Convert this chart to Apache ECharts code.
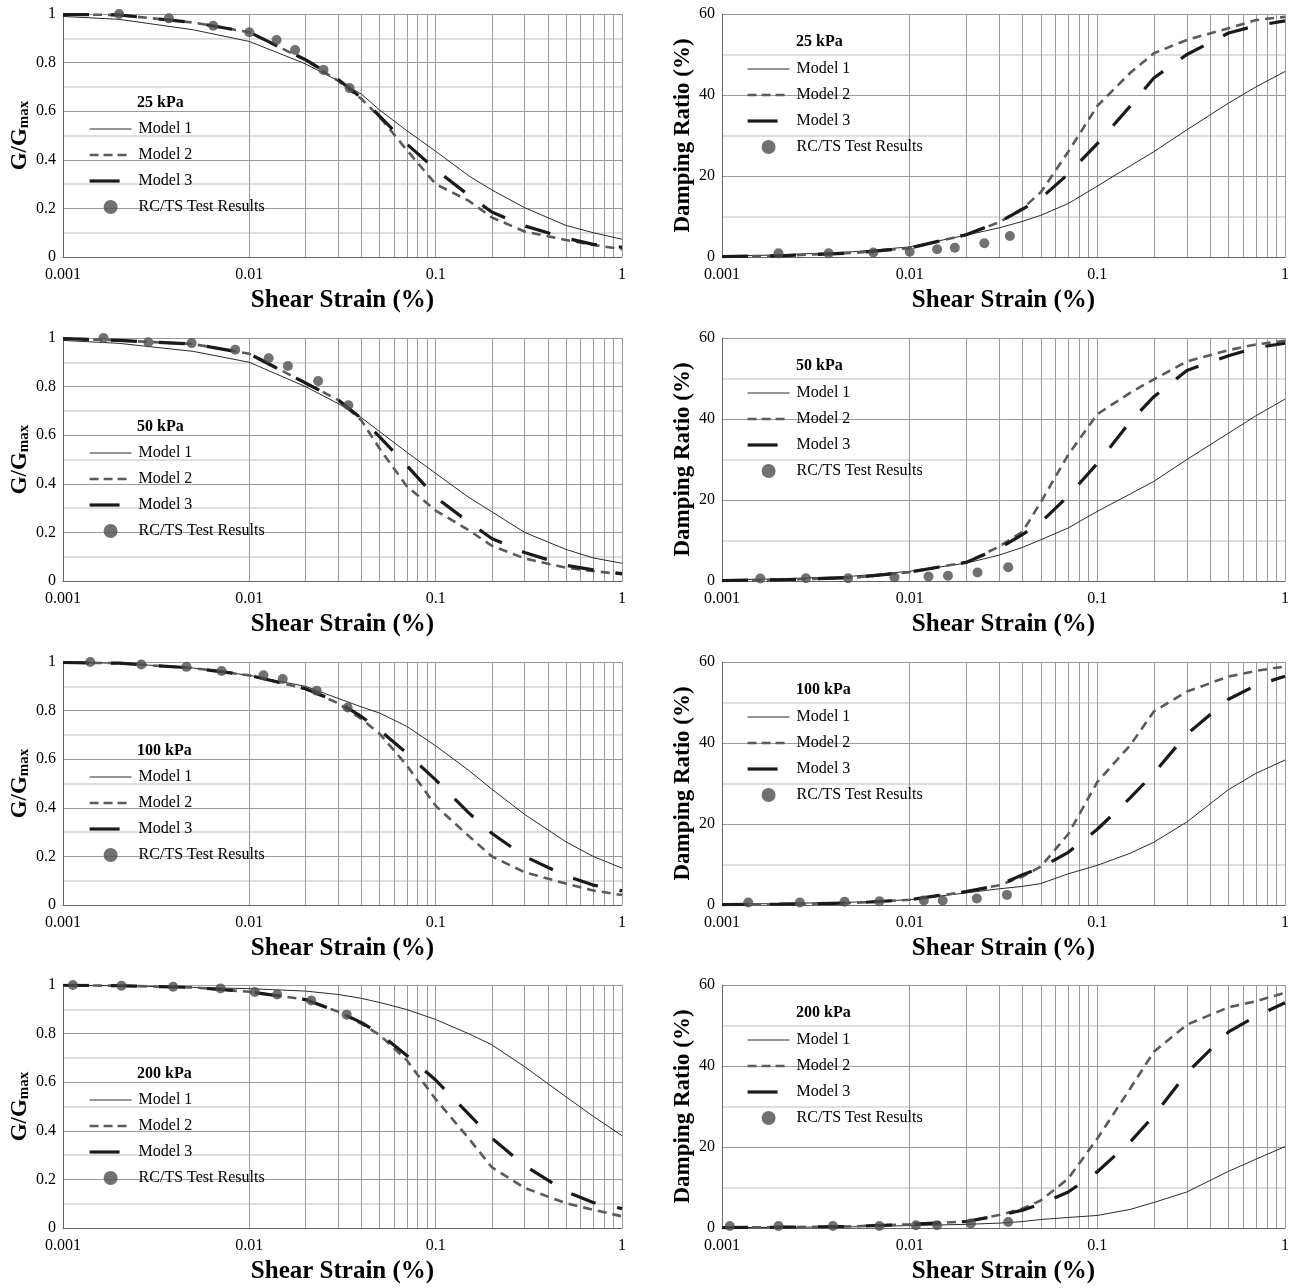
<!DOCTYPE html>
<html>
<head>
<meta charset="utf-8">
<script src="https://cdn.jsdelivr.net/npm/echarts@6/dist/echarts.min.js"></script>
<style>
html,body{margin:0;padding:0;background:#fff;}
#chart{width:1300px;height:1288px;}
</style>
</head>
<body>
<div id="chart"></div>
<script>
// ---------- DATA ----------
const strain = [0.001,0.002,0.005,0.01,0.02,0.03,0.04,0.05,0.07,0.1,0.15,0.2,0.3,0.5,0.7,1];
const xTickLabels = ['0.001','0.01','0.1','1'];
const pressures = ['25 kPa','50 kPa','100 kPa','200 kPa'];
const legendNames = ['Model 1','Model 2','Model 3','RC/TS Test Results'];

// 25 kPa
const g25_m1 = [0.99,0.978,0.935,0.887,0.795,0.725,0.67,0.605,0.52,0.435,0.335,0.276,0.203,0.13,0.1,0.073];
const g25_m2 = [0.998,0.996,0.965,0.925,0.81,0.725,0.65,0.577,0.44,0.3,0.232,0.163,0.105,0.07,0.05,0.032];
const g25_m3 = [0.998,0.996,0.965,0.925,0.812,0.73,0.655,0.58,0.465,0.36,0.255,0.185,0.128,0.078,0.052,0.04];
const g25_testX = [0.002,0.0037,0.0064,0.01,0.014,0.0176,0.025,0.0345];
const g25_testY = [1.0,0.982,0.952,0.925,0.893,0.852,0.77,0.695];
const d25_m1 = [0.2,0.5,1.3,2.5,5.4,7.2,8.8,10.3,13.2,17.5,22.5,26,31.4,38,42,45.8];
const d25_m2 = [0.1,0.3,1.0,2.2,5.5,8.6,12,16,26,37.3,45.5,50.3,53.6,56.5,58.5,59.3];
const d25_m3 = [0.1,0.3,1.0,2.2,5.5,8.6,11.8,14.5,20.5,28,37.3,44.2,50,55.3,57.1,58.3];
const d25_testX = [0.002,0.0037,0.0064,0.01,0.014,0.0174,0.025,0.0342];
const d25_testY = [0.9,0.9,1.1,1.3,1.9,2.3,3.4,5.2];

// 50 kPa
const g50_m1 = [0.99,0.978,0.945,0.9,0.8,0.73,0.672,0.615,0.53,0.443,0.345,0.285,0.2,0.13,0.095,0.073];
const g50_m2 = [0.998,0.99,0.975,0.935,0.815,0.745,0.66,0.545,0.39,0.29,0.21,0.145,0.093,0.055,0.041,0.028];
const g50_m3 = [0.998,0.99,0.975,0.935,0.815,0.745,0.668,0.593,0.475,0.345,0.243,0.175,0.117,0.065,0.046,0.03];
const g50_testX = [0.00165,0.00287,0.0049,0.0084,0.0127,0.0161,0.0234,0.034];
const g50_testY = [1.0,0.982,0.979,0.952,0.917,0.885,0.823,0.723];
const d50_m1 = [0.3,0.5,1.2,2.4,4.4,6.4,8.3,10.2,13.1,17.2,21.5,24.6,30,36.5,40.8,44.9];
const d50_m2 = [0.1,0.3,0.8,2.2,4.6,8.5,12.2,19.5,31.2,41.2,46.5,49.8,54.2,57,58.4,59.3];
const d50_m3 = [0.1,0.3,0.8,2.2,4.6,8.1,11.5,14.5,21,29,39.4,45.5,52,55.6,57.6,58.7];
const d50_testX = [0.0016,0.0028,0.0047,0.0083,0.0126,0.016,0.023,0.0335];
const d50_testY = [0.6,0.7,0.7,0.9,1.1,1.3,2.1,3.4];

// 100 kPa
const g100_m1 = [0.998,0.995,0.975,0.945,0.9,0.85,0.815,0.79,0.735,0.655,0.555,0.477,0.373,0.26,0.2,0.152];
const g100_m2 = [0.998,0.995,0.975,0.945,0.89,0.83,0.765,0.705,0.575,0.408,0.285,0.2,0.135,0.088,0.06,0.041];
const g100_m3 = [0.998,0.995,0.975,0.945,0.89,0.835,0.775,0.72,0.625,0.515,0.38,0.295,0.2,0.12,0.082,0.058];
const g100_testX = [0.0014,0.00263,0.0046,0.0071,0.0119,0.0151,0.023,0.0337];
const g100_testY = [1.0,0.99,0.98,0.963,0.945,0.93,0.882,0.813];
const d100_m1 = [0.2,0.35,0.7,1.3,3,4,4.6,5.3,7.7,9.8,12.8,15.5,20.5,28.5,32.5,35.8];
const d100_m2 = [0.1,0.2,0.5,1.3,3.3,4.9,7,9.5,17.5,30.4,39.5,47.8,52.7,56.4,57.8,58.9];
const d100_m3 = [0.1,0.2,0.5,1.3,3.3,4.9,7.5,9.2,13,18.7,26.5,32.5,42.2,50.8,54.2,56.5];
const d100_testX = [0.00138,0.0026,0.0045,0.0069,0.0119,0.015,0.0228,0.033];
const d100_testY = [0.6,0.6,0.8,0.9,1.1,1.1,1.6,2.5];

// 200 kPa
const g200_m1 = [0.999,0.997,0.99,0.985,0.975,0.961,0.945,0.928,0.899,0.858,0.8,0.754,0.664,0.54,0.46,0.38];
const g200_m2 = [0.999,0.997,0.99,0.972,0.94,0.89,0.84,0.795,0.69,0.53,0.37,0.25,0.165,0.102,0.075,0.048];
const g200_m3 = [0.999,0.997,0.99,0.972,0.94,0.89,0.845,0.8,0.71,0.609,0.47,0.37,0.257,0.15,0.105,0.08];
const g200_testX = [0.00113,0.00206,0.0039,0.007,0.0107,0.0141,0.0215,0.0333];
const g200_testY = [1.0,0.997,0.993,0.986,0.971,0.961,0.936,0.878];
const d200_m1 = [0.1,0.15,0.3,0.6,0.9,1.2,1.6,2.1,2.6,3.1,4.6,6.3,8.9,14,17,20.1];
const d200_m2 = [0.1,0.2,0.4,0.9,1.6,3.2,4.8,6.8,12.2,22.1,34.5,43.5,50.2,54.5,56,58.1];
const d200_m3 = [0.1,0.2,0.4,0.9,1.6,3.1,4.4,5.9,8.9,13.9,21.3,27.7,38.3,48.4,52.3,55.6];
const d200_testX = [0.0011,0.002,0.0039,0.0069,0.0108,0.014,0.0212,0.0335];
const d200_testY = [0.5,0.5,0.5,0.5,0.7,0.7,1.1,1.5];

const minorStrains = [0.002,0.003,0.004,0.005,0.006,0.007,0.008,0.009,
                      0.02,0.03,0.04,0.05,0.06,0.07,0.08,0.09,
                      0.2,0.3,0.4,0.5,0.6,0.7,0.8,0.9];

// ---------- BUILD ----------
const FONT = 'Liberation Serif';
const panels = [
  {kind:'g', p:0, m:[g25_m1,g25_m2,g25_m3], tx:g25_testX, ty:g25_testY},
  {kind:'d', p:0, m:[d25_m1,d25_m2,d25_m3], tx:d25_testX, ty:d25_testY},
  {kind:'g', p:1, m:[g50_m1,g50_m2,g50_m3], tx:g50_testX, ty:g50_testY},
  {kind:'d', p:1, m:[d50_m1,d50_m2,d50_m3], tx:d50_testX, ty:d50_testY},
  {kind:'g', p:2, m:[g100_m1,g100_m2,g100_m3], tx:g100_testX, ty:g100_testY},
  {kind:'d', p:2, m:[d100_m1,d100_m2,d100_m3], tx:d100_testX, ty:d100_testY},
  {kind:'g', p:3, m:[g200_m1,g200_m2,g200_m3], tx:g200_testX, ty:g200_testY},
  {kind:'d', p:3, m:[d200_m1,d200_m2,d200_m3], tx:d200_testX, ty:d200_testY}
];
const rowTops = [14, 338, 662, 985];

const grid=[], xAxis=[], yAxis=[], series=[], legend=[], title=[];
const lineStyles = [
  {color:'#2a2a2a', width:1, type:'solid'},
  {color:'#5a5a5a', width:2.6, type:[9,6]},
  {color:'#1a1a1a', width:3.2, type:[26,22]}
];

panels.forEach((pn, i) => {
  const isG = pn.kind === 'g';
  const top = rowTops[pn.p];
  const left = isG ? 63 : 722;
  const width = isG ? 559 : 563;
  grid.push({left:left, top:top, width:width, height:243, containLabel:false});
  xAxis.push({
    type:'log', logBase:10, min:0.001, max:1, gridIndex:i,
    name:'Shear Strain (%)', nameLocation:'middle', nameGap:31,
    nameTextStyle:{fontFamily:FONT, fontWeight:'bold', fontSize:25, color:'#000'},
    axisLine:{show:true, lineStyle:{color:'#666', width:1}},
    axisTick:{show:false},
    axisLabel:{fontFamily:FONT, fontSize:16, color:'#000', margin:10,
      formatter: v => { const k = Math.round(Math.log10(v)) + 3; return xTickLabels[k] !== undefined ? xTickLabels[k] : ''; }},
    splitLine:{show:true, lineStyle:{color:'#9a9a9a', width:1}}
  });
  yAxis.push({
    type:'value', gridIndex:i, min:0, max: isG ? 1 : 60, interval: isG ? 0.2 : 20,
    name: isG ? '{g|G/G}{s|max}' : 'Damping Ratio (%)',
    nameLocation:'middle', nameGap: isG ? 30 : 27,
    nameTextStyle: isG ? {
      fontFamily:FONT, fontWeight:'bold', color:'#000',
      rich:{
        g:{fontFamily:FONT, fontWeight:'bold', fontSize:23, color:'#000', lineHeight:23, verticalAlign:'top'},
        s:{fontFamily:FONT, fontWeight:'bold', fontSize:15, color:'#000', lineHeight:15, padding:[9,0,0,0], verticalAlign:'top'}
      }
    } : {fontFamily:FONT, fontWeight:'bold', fontSize:23, color:'#000'},
    axisLine:{show:true, lineStyle:{color:'#666', width:1}},
    axisTick:{show:false},
    axisLabel:{fontFamily:FONT, fontSize:16, color:'#000', margin:7},
    splitLine:{show:true, lineStyle:{color:'#9a9a9a', width:1}},
    minorTick:{show:false, splitNumber:2},
    minorSplitLine:{show:true, lineStyle:{color:'#d4d4d4', width:1.5}}
  });
  ['Model 1','Model 2','Model 3'].forEach((nm, k) => {
    const s = {
      name:nm, type:'line', xAxisIndex:i, yAxisIndex:i,
      data: strain.map((x, j) => [x, pn.m[k][j]]),
      symbol:'none', showSymbol:false, smooth:false,
      lineStyle: Object.assign({}, lineStyles[k]),
      itemStyle:{color: lineStyles[k].color},
      z: 3 + k, silent:true, animation:false
    };
    if (k === 0) {
      s.markLine = {
        silent:true, symbol:['none','none'], z:1, animation:false,
        label:{show:false},
        lineStyle:{color:'#9a9a9a', width:1, type:'solid'},
        data: minorStrains.map(v => ({xAxis:v}))
      };
    }
    series.push(s);
  });
  series.push({
    name:'RC/TS Test Results', type:'scatter', xAxisIndex:i, yAxisIndex:i,
    data: pn.tx.map((x, j) => [x, pn.ty[j]]),
    symbol:'circle', symbolSize:10, itemStyle:{color:'#4d4d4d'}, z:6, silent:true, animation:false
  });
  const legTop = isG ? top + 107 : top + 47;
  const legLeft = isG ? 88 : 746;
  legend.push({
    left:legLeft, top:legTop, orient:'vertical', padding:0, itemGap:10,
    itemWidth:42, itemHeight:14, selectedMode:false,
    textStyle:{fontFamily:FONT, fontSize:16, color:'#000', padding:[0,0,0,2]},
    data:[
      {name:'Model 1', itemStyle:{opacity:0}, lineStyle:{width:1, color:'#2a2a2a'}},
      {name:'Model 2', itemStyle:{opacity:0}, lineStyle:{width:2.6, color:'#5a5a5a', type:[9,5]}},
      {name:'Model 3', itemStyle:{opacity:0}, lineStyle:{width:3.2, color:'#1a1a1a', type:[30,30]}},
      {name:'RC/TS Test Results', icon:'circle', itemStyle:{color:'#4d4d4d'}}
    ]
  });
  title.push({
    text: pressures[pn.p], left: isG ? 137 : 796, top: isG ? top + 81 : top + 20, padding:0,
    textStyle:{fontFamily:FONT, fontWeight:'bold', fontSize:16, color:'#000'}
  });
});

const chart = echarts.init(document.getElementById('chart'), null, {renderer:'canvas'});
chart.setOption({
  backgroundColor:'#fff', animation:false,
  grid, xAxis, yAxis, series, legend, title
});
</script>
</body>
</html>
